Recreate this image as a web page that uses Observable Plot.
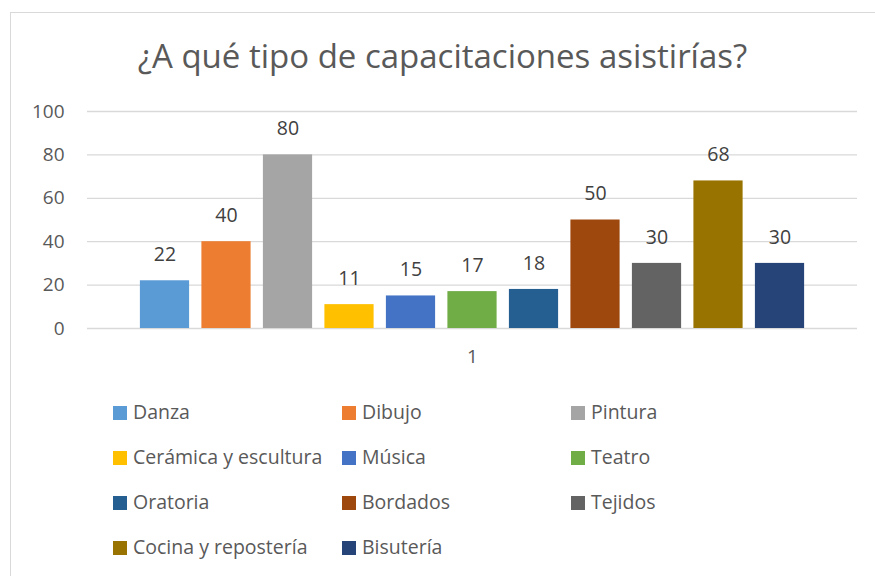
<!DOCTYPE html>
<html>
<head>
<meta charset="utf-8">
<script src="https://cdn.jsdelivr.net/npm/d3@7"></script>
<script src="https://cdn.jsdelivr.net/npm/@observablehq/plot@0.6"></script>
<style>
  html, body { margin: 0; padding: 0; background: #fff; }
  #wrap { position: relative; width: 875px; height: 576px; overflow: hidden; font-family: "Open Sans", Lato, sans-serif; color: #595959; }
  #frame { position: absolute; left: 10px; top: 12px; width: 900px; height: 620px; border: 1px solid #d9d9d9; box-sizing: border-box; }
  #title { position: absolute; left: 10px; width: 865px; top: 33px; text-align: center; font-size: 33px; color: #595959; }
  #chart { position: absolute; left: 0; top: 90px; }
  #legend { position: absolute; left: 113px; top: 398px; }
  .item { position: absolute; white-space: nowrap; font-size: 19.5px; color: #595959; height: 28px; line-height: 28px; }
  .sw { display: inline-block; width: 14px; height: 14px; margin-right: 6px; vertical-align: -1px; }
</style>
</head>
<body>
<div id="wrap">
  <div id="frame"></div>
  <div id="title">¿A qué tipo de capacitaciones asistirías?</div>
  <div id="chart"></div>
  <div id="legend"></div>
</div>
<script>
const categories = ["Danza", "Dibujo", "Pintura", "Cerámica y escultura", "Música", "Teatro", "Oratoria", "Bordados", "Tejidos", "Cocina y repostería", "Bisutería"];
const values = [22, 40, 80, 11, 15, 17, 18, 50, 30, 68, 30];
const colors = ["#5B9BD5", "#ED7D31", "#A5A5A5", "#FFC000", "#4472C4", "#70AD47", "#255E91", "#9E480E", "#636363", "#997300", "#264478"];
const groupLabel = "1";
const yTicks = [0, 20, 40, 60, 80, 100];

const data = categories.map((c, i) => ({name: c, value: values[i], group: groupLabel}));

const plot = Plot.plot({
  width: 875,
  height: 290,
  marginTop: 21,
  marginLeft: 87,
  marginRight: 18,
  marginBottom: 52,
  style: {fontFamily: "'Open Sans', Lato, sans-serif", fontSize: "19px", color: "#595959", background: "transparent"},
  fx: {domain: [groupLabel], padding: 0, label: null, tickSize: 0, tickPadding: 21},
  x: {domain: categories, paddingInner: 0.2, paddingOuter: 0.86, round: false, axis: null},
  y: {domain: [0, 100], ticks: yTicks, label: null, tickSize: 0, tickPadding: 23},
  color: {domain: categories, range: colors},
  marks: [
    Plot.ruleY(yTicks, {stroke: "#d9d9d9", strokeWidth: 1.3}),
    Plot.barY(data, {fx: "group", x: "name", y: "value", fill: "name"}),
    Plot.text(data, {fx: "group", x: "name", y: "value", text: "value", dy: -26, fill: "#404040", fontSize: 19.5})
  ]
});
document.getElementById("chart").appendChild(plot);

const legend = document.getElementById("legend");
categories.forEach((c, i) => {
  const col = i % 3, row = Math.floor(i / 3);
  const el = document.createElement("div");
  el.className = "item";
  el.style.left = (col * 229) + "px";
  el.style.top = (row * 45) + "px";
  const sw = document.createElement("span");
  sw.className = "sw";
  sw.style.background = colors[i];
  el.appendChild(sw);
  el.appendChild(document.createTextNode(c));
  legend.appendChild(el);
});
</script>
</body>
</html>
